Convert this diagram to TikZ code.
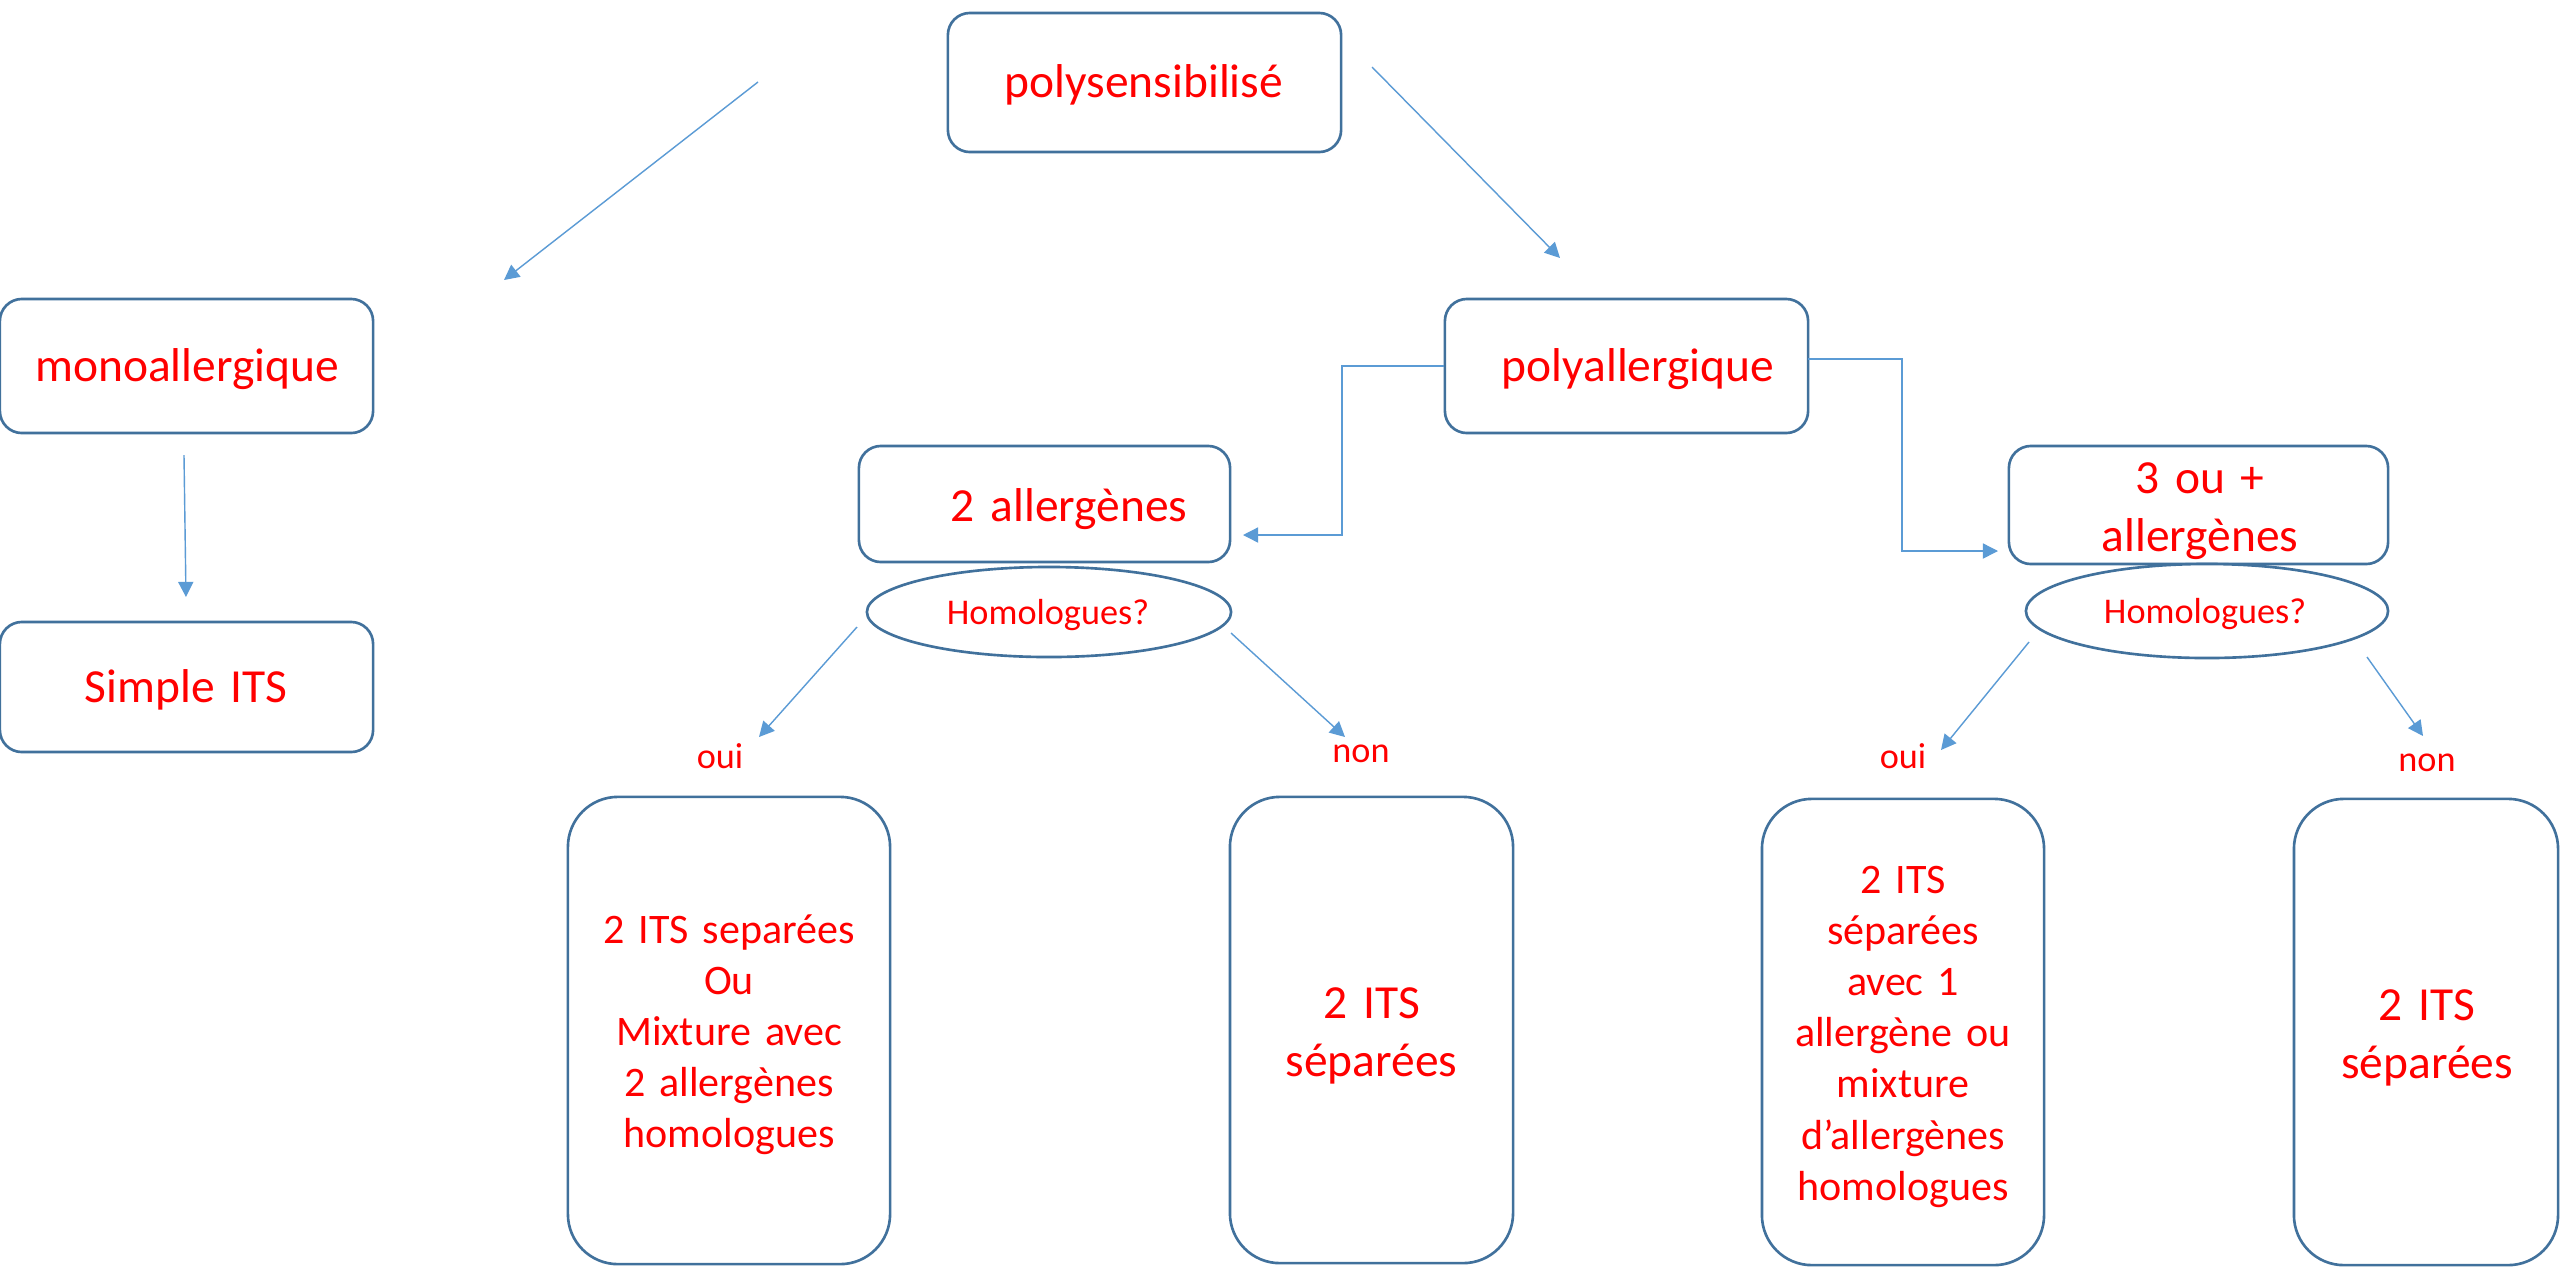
\documentclass[tikz,border=0pt]{standalone}
\usepackage{fontspec}
\setmainfont{Carlito}
\usetikzlibrary{shapes.geometric,arrows.meta}
\definecolor{boxblue}{RGB}{65,113,156}
\definecolor{linkblue}{RGB}{91,155,213}
\definecolor{txtred}{RGB}{255,0,0}
\begin{document}
\begin{tikzpicture}[x=0.01cm,y=-0.01cm,
 box/.style={draw=boxblue,line width=0.75pt,rounded corners=0.22cm,inner sep=0pt,fill=white},
 tallbox/.style={box,rounded corners=0.5cm},
 oval/.style={ellipse,draw=boxblue,line width=0.75pt,inner sep=0pt,fill=white},
 conn/.style={draw=linkblue,line width=0.4pt,-{Triangle[length=4.3pt,width=4.3pt]}},
 bigtxt/.style={text=txtred,font=\fontsize{13.5pt}{16.5pt}\selectfont,anchor=base,inner sep=0pt,text width=4cm,align=center},
 midtxt/.style={bigtxt,font=\fontsize{11.95pt}{14.57pt}\selectfont},
 smalltxt/.style={bigtxt,font=\fontsize{10.3pt}{12.5pt}\selectfont}]

\useasboundingbox (0,0) rectangle (2560,1266);
\fill[white] (0,0) rectangle (2560,1266);

% boxes
\node[box,minimum width=3.93cm,minimum height=1.39cm] (poly) at (1144.5,82.5) {};
\node[box,minimum width=3.73cm,minimum height=1.34cm] (mono) at (186.5,366) {};
\node[box,minimum width=3.73cm,minimum height=1.30cm] (simple) at (186.5,687) {};
\node[box,minimum width=3.63cm,minimum height=1.34cm] (polyal) at (1626.5,366) {};
\node[box,minimum width=3.71cm,minimum height=1.16cm] (two) at (1044.5,504) {};
\node[box,minimum width=3.79cm,minimum height=1.18cm] (three) at (2198.5,505) {};
\node[oval,minimum width=3.64cm,minimum height=0.90cm] (hom1) at (1049,612) {};
\node[oval,minimum width=3.62cm,minimum height=0.94cm] (hom2) at (2207,611) {};
\node[tallbox,minimum width=3.22cm,minimum height=4.67cm] (resA) at (729,1030.5) {};
\node[tallbox,minimum width=2.83cm,minimum height=4.66cm] (resB) at (1371.5,1030) {};
\node[tallbox,minimum width=2.82cm,minimum height=4.66cm] (resC) at (1903,1032) {};
\node[tallbox,minimum width=2.64cm,minimum height=4.66cm] (resD) at (2426,1032) {};

% texts
\node[bigtxt] (tpoly) at (1144,97) {polysensibilisé};
\node[bigtxt] (tmono) at (187,381) {monoallergique};
\node[bigtxt] (tsimple) at (186,702) {Simple ITS};
\node[bigtxt] (tpolyal) at (1638,381) {polyallergique};
\node[bigtxt] (ttwo) at (1069,521) {2 allergènes};
\node[bigtxt] (tthree) at (2200,493) {3 ou +\\allergènes};
\node[smalltxt] (thom1) at (1048,624) {Homologues?};
\node[smalltxt] (thom2) at (2205,623) {Homologues?};
\node[midtxt] (tA) at (729,943) {2 ITS separées\\Ou\\Mixture avec\\2 allergènes\\homologues};
\node[bigtxt] (tB) at (1371.5,1018) {2 ITS\\séparées};
\node[midtxt] (tC) at (1903,893) {2 ITS\\séparées\\avec 1\\allergène ou\\mixture\\d’allergènes\\homologues};
\node[bigtxt] (tD) at (2427,1020) {2 ITS\\séparées};
\node[smalltxt] (oui1) at (720,768) {oui};
\node[smalltxt] (non1) at (1361,762) {non};
\node[smalltxt] (oui2) at (1903,768) {oui};
\node[smalltxt] (non2) at (2427,771) {non};

% connector end points
\coordinate (a1s) at (758,82);   \coordinate (a1e) at (504,280);
\coordinate (a2s) at (1372,67);  \coordinate (a2e) at (1560,258);
\coordinate (a3s) at (184,455);  \coordinate (a3e) at (186,597);
\coordinate (k1) at (1342,366);  \coordinate (t1) at (1243,535);
\coordinate (s2) at (1808,359);  \coordinate (k2) at (1902,359); \coordinate (t2) at (1998,551);
\coordinate (b1s) at (857,627);  \coordinate (b1e) at (759,737);
\coordinate (b2s) at (1231,633); \coordinate (b2e) at (1345,737);
\coordinate (c1s) at (2029,642); \coordinate (c1e) at (1941,750);
\coordinate (c2s) at (2367,657); \coordinate (c2e) at (2423,736);

% connectors
\draw[conn] (a1s) -- (a1e);
\draw[conn] (a2s) -- (a2e);
\draw[conn] (a3s) -- (a3e);
\draw[conn] (polyal.west) -- (k1) |- (t1);
\draw[conn] (s2) -- (k2) |- (t2);
\draw[conn] (b1s) -- (b1e);
\draw[conn] (b2s) -- (b2e);
\draw[conn] (c1s) -- (c1e);
\draw[conn] (c2s) -- (c2e);
\end{tikzpicture}
\end{document}
